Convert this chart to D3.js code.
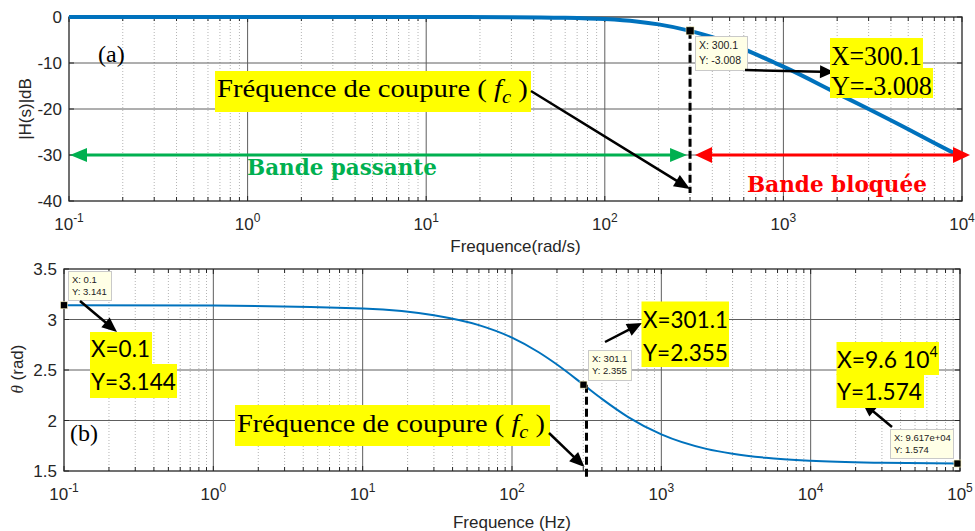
<!DOCTYPE html>
<html><head><meta charset="utf-8">
<script src="https://cdn.jsdelivr.net/npm/d3@7"></script>
<style>html,body{margin:0;padding:0;background:#fff;} svg{display:block;}</style>
</head><body>
<svg id="c" width="975" height="531"></svg>
<script>
// ---------- data ----------
const magFreq = [0.1, 1, 10, 30, 60, 100, 150, 200, 300.1, 400, 600, 900, 1000, 2000, 3000, 5000, 7000, 10000];
const magDb   = [0, 0, -0.005, -0.04, -0.17, -0.46, -0.97, -1.6, -3.008, -4.4, -6.99, -10.0, -10.8, -16.6, -20.0, -24.4, -27.4, -30.5];
const phaseFreq = [0.1, 1, 10, 30, 60, 100, 150, 200, 301.1, 400, 600, 1000, 2000, 3000, 5000, 10000, 30000, 96170];
const phaseRad  = [3.141, 3.138, 3.108, 3.042, 2.944, 2.820, 2.678, 2.554, 2.355, 2.214, 2.034, 1.862, 1.719, 1.671, 1.631, 1.601, 1.581, 1.574];
const magTicks = [0, -10, -20, -30, -40];
const phaseTicks = [3.5, 3, 2.5, 2, 1.5];
const phaseTickLabels = ["3.5", "3", "2.5", "2", "1.5"];
const magDecades = [-1, 0, 1, 2, 3, 4];
const phaseDecades = [-1, 0, 1, 2, 3, 4, 5];
const magTipX = [300.1], magTipY = [-3.008];
const phaseTipX = [0.1, 301.1, 96170], phaseTipY = [3.141, 2.355, 1.574];
const phaseTipText = [["X: 0.1", "Y: 3.141"], ["X: 301.1", "Y: 2.355"], ["X: 9.617e+04", "Y: 1.574"]];
const magTipText = ["X: 300.1", "Y: -3.008"];
const cutLabel = "Fréquence de coupure ( ";
const passLabel = "Bande passante", stopLabel = "Bande bloquée";

const SERIF = "'Liberation Serif','Times New Roman',serif";
const SANS = "'Liberation Sans',Arial,Helvetica,sans-serif";
const CAL = "Lato,'Open Sans',sans-serif";
const BLUE = "#0072BD", AX = "#262626";

const svg = d3.select("#c");
svg.append("rect").attr("width", 975).attr("height", 531).attr("fill", "#fff");

// ---------- scales ----------
const xm = d3.scaleLog().domain([0.1, 1e4]).range([69, 962]);
const ym = d3.scaleLinear().domain([-40, 0]).range([201, 17]);
const xp = d3.scaleLog().domain([0.1, 1e5]).range([64, 960]);
const yp = d3.scaleLinear().domain([1.5, 3.5]).range([471, 269]);

function panel(x, y, decades, yticks, ylabels) {
  const g = svg.append("g");
  const [x0, x1] = x.range(), [y0, y1] = y.range();
  const minors = [];
  decades.slice(0, -1).forEach(d => { for (let k = 2; k <= 9; k++) minors.push(k * Math.pow(10, d)); });
  // minor grid
  g.selectAll(".mg").data(minors).enter().append("line")
    .attr("x1", d => x(d)).attr("x2", d => x(d)).attr("y1", y1).attr("y2", y0)
    .attr("stroke", "#b4b4b4").attr("stroke-width", 1).attr("stroke-dasharray", "1,2");
  // major grid
  g.selectAll(".vg").data(decades.slice(1, -1)).enter().append("line")
    .attr("x1", d => x(Math.pow(10, d))).attr("x2", d => x(Math.pow(10, d))).attr("y1", y1).attr("y2", y0)
    .attr("stroke", "#5e5e5e").attr("stroke-width", 1);
  g.selectAll(".hg").data(yticks.slice(1, -1)).enter().append("line")
    .attr("x1", x0).attr("x2", x1).attr("y1", d => y(d)).attr("y2", d => y(d))
    .attr("stroke", "#5e5e5e").attr("stroke-width", 1);
  // ticks inside
  const tk = (vals, len) => vals.forEach(v => {
    const px = x(v);
    g.append("line").attr("x1", px).attr("x2", px).attr("y1", y0).attr("y2", y0 - len).attr("stroke", AX);
    g.append("line").attr("x1", px).attr("x2", px).attr("y1", y1).attr("y2", y1 + len).attr("stroke", AX);
  });
  tk(minors, 4); tk(decades.map(d => Math.pow(10, d)), 5);
  yticks.forEach(v => {
    g.append("line").attr("x1", x0).attr("x2", x0 + 5).attr("y1", y(v)).attr("y2", y(v)).attr("stroke", AX);
    g.append("line").attr("x1", x1).attr("x2", x1 - 5).attr("y1", y(v)).attr("y2", y(v)).attr("stroke", AX);
  });
  // box
  g.append("rect").attr("x", x0).attr("y", y1).attr("width", x1 - x0).attr("height", y0 - y1)
    .attr("fill", "none").attr("stroke", AX).attr("stroke-width", 1.3);
  // tick labels
  yticks.forEach((v, i) => {
    g.append("text").attr("x", x0 - 7).attr("y", y(v)).attr("dy", "0.36em")
      .attr("text-anchor", "end").attr("font-family", SANS).attr("font-size", 17).attr("fill", AX)
      .text(ylabels[i]);
  });
  decades.forEach(d => {
    const t = g.append("text").attr("x", x(Math.pow(10, d))).attr("y", y0 + 29)
      .attr("text-anchor", "middle").attr("font-family", SANS).attr("font-size", 17).attr("fill", AX);
    t.append("tspan").text("10");
    t.append("tspan").attr("dy", -8).attr("font-size", 12).text(String(d).replace("-", "-"));
  });
  return g;
}

panel(xm, ym, magDecades, magTicks, magTicks.map(String));
panel(xp, yp, phaseDecades, phaseTicks, phaseTickLabels);

// axis labels
svg.append("text").attr("transform", "translate(31,109) rotate(-90)").attr("text-anchor", "middle")
  .attr("font-family", SANS).attr("font-size", 17).attr("fill", AX).text("|H(s)|dB");
const th = svg.append("text").attr("transform", "translate(23,369) rotate(-90)").attr("text-anchor", "middle")
  .attr("font-family", SANS).attr("font-size", 17).attr("fill", AX);
th.append("tspan").attr("font-style", "italic").attr("font-family", SERIF).text("θ");
th.append("tspan").text(" (rad)");
svg.append("text").attr("x", 515.5).attr("y", 252).attr("text-anchor", "middle")
  .attr("font-family", SANS).attr("font-size", 17).attr("fill", AX).text("Frequence(rad/s)");
svg.append("text").attr("x", 512).attr("y", 528).attr("text-anchor", "middle")
  .attr("font-family", SANS).attr("font-size", 17).attr("fill", AX).text("Frequence (Hz)");

// ---------- curves ----------
svg.append("path").datum(d3.zip(magFreq, magDb))
  .attr("d", d3.line().x(d => xm(d[0])).y(d => ym(d[1])).curve(d3.curveMonotoneX))
  .attr("fill", "none").attr("stroke", BLUE).attr("stroke-width", 4);
svg.append("path").datum(d3.zip(phaseFreq, phaseRad))
  .attr("d", d3.line().x(d => xp(d[0])).y(d => yp(d[1])).curve(d3.curveMonotoneX))
  .attr("fill", "none").attr("stroke", BLUE).attr("stroke-width", 2);

// ---------- helpers ----------
function arrow(x0, y0, x1, y1, color, w, hl, hw) {
  const dx = x1 - x0, dy = y1 - y0, L = Math.hypot(dx, dy), ux = dx / L, uy = dy / L;
  const bx = x1 - ux * hl, by = y1 - uy * hl;
  svg.append("line").attr("x1", x0).attr("y1", y0).attr("x2", bx + ux).attr("y2", by + uy)
    .attr("stroke", color).attr("stroke-width", w);
  svg.append("path").attr("d", `M${x1},${y1}L${bx - uy * hw / 2},${by + ux * hw / 2}L${bx + uy * hw / 2},${by - ux * hw / 2}Z`)
    .attr("fill", color);
}
function dblArrow(x0, x1, y, color, w, hl, hw) {
  const mid = (x0 + x1) / 2;
  arrow(mid, y, x0, y, color, w, hl, hw);
  arrow(mid, y, x1, y, color, w, hl, hw);
}
function fitText(x, y, width, build) {
  const t = svg.append("text").attr("transform", `translate(${x},${y})`);
  build(t);
  const bw = t.node().getBBox().width;
  t.attr("transform", `translate(${x},${y}) scale(${width / bw},1)`);
  return t;
}
function yellow(x, y, w, h) {
  svg.append("rect").attr("x", x).attr("y", y).attr("width", w).attr("height", h).attr("fill", "#ffff00");
}
function datatip(x, y, w, h, lines, fs, lineGap) {
  svg.append("rect").attr("x", x + 0.5).attr("y", y + 0.5).attr("width", w).attr("height", h)
    .attr("fill", "#ffffe6").attr("stroke", "#c9c9c9").attr("stroke-width", 1);
  lines.forEach((s, i) => svg.append("text").attr("x", x + 4).attr("y", y + h / 2 - lineGap / 2 + fs * 0.36 + i * lineGap)
    .attr("font-family", SANS).attr("font-size", fs).attr("fill", "#222").text(s));
}
function marker(px, py, s) {
  svg.append("rect").attr("x", px - s / 2).attr("y", py - s / 2).attr("width", s).attr("height", s)
    .attr("fill", "#000").attr("stroke", "#fff8c0").attr("stroke-width", 0.6);
}
function cutText(x, y, w) {
  fitText(x, y, w, t => {
    t.attr("font-family", SERIF).attr("font-size", 25).attr("fill", "#000");
    t.append("tspan").text(cutLabel);
    t.append("tspan").attr("font-style", "italic").text("f");
    t.append("tspan").attr("font-style", "italic").attr("font-size", 18).attr("dy", 6).text("c");
    t.append("tspan").attr("dy", -6).text(" )");
  });
}

// ---------- panel (a) annotations ----------
svg.append("text").attr("x", 98).attr("y", 62).attr("font-family", SERIF).attr("font-size", 24).attr("fill", "#000").text("(a)");
const mx = xm(magTipX[0]), my = ym(magTipY[0]);
svg.append("line").attr("x1", mx).attr("x2", mx).attr("y1", my).attr("y2", ym(-40) - 8)
  .attr("stroke", "#000").attr("stroke-width", 3).attr("stroke-dasharray", "8,4");
dblArrow(xm(0.1) + 1, mx - 3, ym(-30), "#00B050", 3, 17, 14);
dblArrow(mx + 5, xm(1e4) + 8, ym(-30), "#FF0000", 3, 17, 16);
fitText(247, 175, 190, t => t.attr("font-family", "'DejaVu Serif',serif").attr("font-weight", "bold")
  .attr("font-size", 22).attr("fill", "#00B050").text(passLabel));
fitText(747, 192, 180, t => t.attr("font-family", "'DejaVu Serif',serif").attr("font-weight", "bold")
  .attr("font-size", 23).attr("fill", "#FF0000").text(stopLabel));
yellow(215, 71, 316, 41);
cutText(217, 97, 311);
arrow(531, 91, mx, 189, "#000", 2.5, 16, 13);
datatip(695, 36, 52, 34, magTipText, 10.5, 15);
marker(mx, my, 8);
arrow(745, 70, 834, 72, "#000", 2.5, 14, 13);
yellow(830, 38, 93, 31); yellow(830, 68, 103, 30);
fitText(831, 65, 91, t => t.attr("font-family", SERIF).attr("font-size", 28).attr("fill", "#000").text("X=" + magTipX[0]));
fitText(831, 95, 101, t => t.attr("font-family", SERIF).attr("font-size", 28).attr("fill", "#000").text("Y=" + magTipY[0]));

// ---------- panel (b) annotations ----------
svg.append("text").attr("x", 70).attr("y", 441).attr("font-family", SERIF).attr("font-size", 24).attr("fill", "#000").text("(b)");
const px1 = xp(phaseTipX[1]), py1 = yp(phaseTipY[1]);
svg.append("line").attr("x1", px1 + 3).attr("x2", px1 + 3).attr("y1", py1).attr("y2", yp(1.5) + 7)
  .attr("stroke", "#000").attr("stroke-width", 3).attr("stroke-dasharray", "8,4");
// tip 1
datatip(68, 271, 43, 29, phaseTipText[0], 9.5, 12);
marker(xp(phaseTipX[0]), yp(phaseTipY[0]), 7);
arrow(80, 301, 117, 332, "#000", 2.5, 15, 13);
yellow(90, 332, 62, 33); yellow(90, 364, 87, 34);
fitText(91, 357, 59, t => t.attr("font-family", CAL).attr("font-size", 24).attr("fill", "#000").text("X=0.1"));
fitText(91, 390, 85, t => t.attr("font-family", CAL).attr("font-size", 24).attr("fill", "#000").text("Y=3.144"));
// cutoff
yellow(235, 405, 315, 41);
cutText(237, 432, 308);
arrow(549, 433, px1 + 1, 467, "#000", 2.5, 15, 13);
// tip 2
datatip(588, 350, 43, 30, phaseTipText[1], 9.5, 12);
marker(px1, py1, 7);
arrow(605, 342, 642, 323, "#000", 2.5, 15, 13);
yellow(641.5, 301.5, 87.5, 65.5);
fitText(643, 328, 85, t => t.attr("font-family", CAL).attr("font-size", 24).attr("fill", "#000").text("X=301.1"));
fitText(643, 361, 85, t => t.attr("font-family", CAL).attr("font-size", 24).attr("fill", "#000").text("Y=2.355"));
// tip 3
datatip(890, 429, 63, 29, phaseTipText[2], 9.5, 12.5);
marker(xp(phaseTipX[2]), yp(phaseTipY[2]), 7);
arrow(892, 427, 862, 402, "#000", 2.5, 15, 13);
yellow(836.5, 342, 102.5, 33); yellow(836.5, 374, 87.5, 34);
fitText(837, 368, 101, t => {
  t.attr("font-family", CAL).attr("font-size", 24).attr("fill", "#000");
  t.append("tspan").text("X=9.6 10");
  t.append("tspan").attr("dy", -11).attr("font-size", 15).text("4");
});
fitText(837, 400, 85, t => t.attr("font-family", CAL).attr("font-size", 24).attr("fill", "#000").text("Y=" + phaseTipY[2]));
</script>
</body></html>
